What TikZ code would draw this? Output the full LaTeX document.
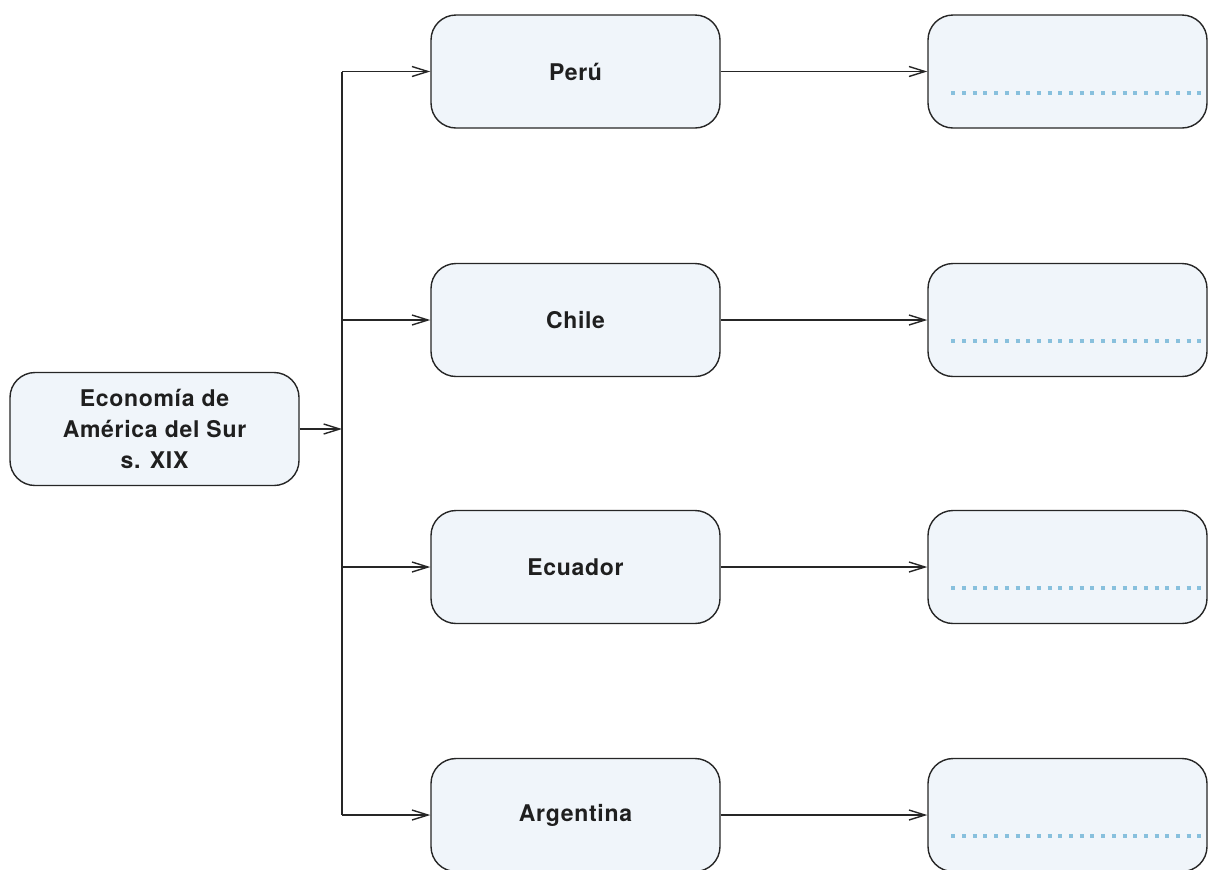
\documentclass[tikz,border=0pt]{standalone}
\usepackage{fontspec}
\setmainfont{TeX Gyre Heros}[LetterSpace=3]
\usetikzlibrary{arrows.meta}

\definecolor{boxfill}{HTML}{F0F5FA}
\definecolor{boxline}{HTML}{262626}
\definecolor{dotblue}{HTML}{88C0DD}

\tikzstyle{topic}=[draw=boxline,line width=0.7pt,fill=boxfill,rounded corners=12.5pt,minimum width=144.5pt,minimum height=56.5pt,align=center,text=black!88,font=\fontsize{11.5}{15.5}\selectfont\bfseries]
\tikzstyle{answer}=[topic,minimum width=139.5pt]
\tikzstyle{arrowdecorate}=[-{Straight Barb[length=8pt,width=5pt]},line width=0.7pt,draw=boxline]
\tikzstyle{trunk edge}=[line width=0.7pt,draw=boxline]
\tikzstyle{blank line}=[draw=dotblue,line width=2pt,dash pattern=on 2pt off 3.35pt]

\begin{document}
\begin{tikzpicture}[x=0.5pt,y=-0.5pt]
      \useasboundingbox (0,0) rectangle (1208,869);
      %nodes
      \node[topic] (eco) at (154.5,429) {Economía de\\América del Sur\\s. XIX};
      \foreach \nodename/\y/\country in {
        peru/71.5/Perú, chile/320/Chile,
        ecuador/567/Ecuador, arg/815/Argentina}
      {
        \node[topic] (\nodename) at (575.5,\y) {\country};
        \node[answer] (\nodename-r) at (1067.5,\y) {};
        \draw[blank line] ([xshift=12pt,yshift=-10.5pt]\nodename-r.west) -- ([xshift=-1.5pt,yshift=-10.5pt]\nodename-r.east);
      };
      \coordinate (trunk) at (342,429);
      %edges
      \draw[arrowdecorate] (eco) -- (trunk);
      \draw[trunk edge] (trunk |- peru) -- (trunk |- arg);
      \foreach \nodename in {peru, chile, ecuador, arg}
      {
        \draw[arrowdecorate] (trunk |- \nodename) -- (\nodename);
        \draw[arrowdecorate] (\nodename) -- (\nodename-r);
      };
\end{tikzpicture}
\end{document}
